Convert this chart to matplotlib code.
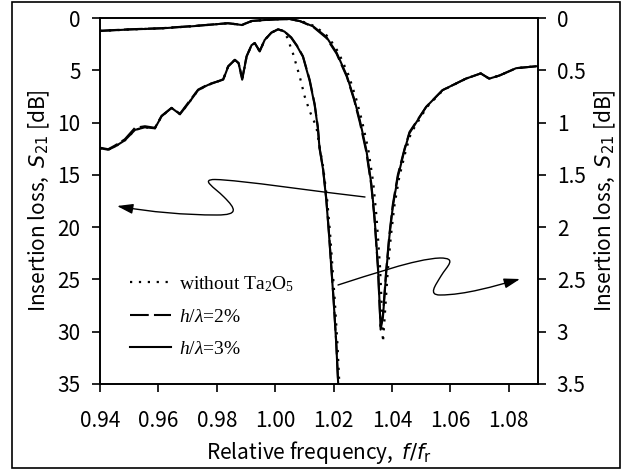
import matplotlib
matplotlib.use("Agg")
import matplotlib.pyplot as plt
from matplotlib.path import Path
from matplotlib.patches import FancyArrowPatch, Rectangle

plt.rcParams["mathtext.fontset"] = "custom"
plt.rcParams["mathtext.rm"] = "Liberation Serif"
plt.rcParams["mathtext.it"] = "Liberation Serif:italic"

# --- wide-scale curve (left axis, 0-35 dB) ---
wide_f = [0.940, 0.9428, 0.9451, 0.9485, 0.952, 0.9554, 0.9588, 0.9611, 0.9645,
          0.9674, 0.9702, 0.9736, 0.977, 0.981, 0.9822, 0.9839, 0.9862, 0.9875,
          0.9887, 0.9902, 0.9919, 0.993, 0.9947, 0.9964, 0.9987, 1.001, 1.0032,
          1.0055, 1.0075, 1.0095, 1.0118, 1.0135, 1.0146, 1.0152, 1.0164, 1.0175,
          1.0184, 1.0192, 1.0200, 1.0209, 1.0215, 1.0218]
wide_3 = [12.45, 12.6, 12.3, 11.7, 10.7, 10.45, 10.55, 9.4, 8.6,
          9.2, 8.2, 6.9, 6.4, 6.0, 5.9, 4.65, 4.0, 4.35,
          5.9, 3.7, 2.6, 2.4, 3.2, 2.1, 1.4, 1.08, 1.3,
          1.9, 2.7, 3.7, 6.0, 8.3, 10.5, 12.5, 14.5, 17.4,
          20.6, 23.8, 27.0, 31.1, 34.6, 36.0]
wide_2 = [12.4, 12.55, 12.2, 11.6, 10.5, 10.35, 10.5, 9.35, 8.6,
          9.15, 8.1, 6.85, 6.35, 6.0, 5.85, 4.6, 4.0, 4.3,
          5.8, 3.65, 2.6, 2.4, 3.15, 2.1, 1.4, 1.08, 1.3,
          1.85, 2.65, 3.65, 5.9, 8.2, 10.4, 12.4, 14.4, 17.3,
          20.5, 23.7, 26.9, 31.0, 34.5, 36.0]
wide_f_0 = [0.940, 0.9428, 0.9451, 0.9485, 0.952, 0.9554, 0.9588, 0.9611, 0.9645,
            0.9674, 0.9702, 0.9736, 0.977, 0.981, 0.9822, 0.9839, 0.9862, 0.9875,
            0.9887, 0.9902, 0.9919, 0.993, 0.9947, 0.9964, 0.9987, 1.001, 1.0025,
            1.0041, 1.0061, 1.0084, 1.0101, 1.0118, 1.0141, 1.0152, 1.0164, 1.0178,
            1.0188, 1.0196, 1.0204, 1.0213, 1.0219, 1.0222]
wide_0 = [12.45, 12.6, 12.3, 11.7, 10.7, 10.45, 10.55, 9.4, 8.6,
          9.2, 8.2, 6.9, 6.4, 6.0, 5.9, 4.65, 4.0, 4.35,
          5.9, 3.7, 2.6, 2.4, 3.2, 2.1, 1.4, 1.08, 1.2,
          1.85, 3.4, 5.6, 7.5, 8.9, 10.4, 12.3, 14.2, 17.4,
          20.6, 23.8, 27.0, 31.1, 34.6, 36.0]

# --- fine-scale curve (right axis, 0-3.5 dB) ---
narrow_f = [0.940, 0.950, 0.9612, 0.9725, 0.9838, 0.9886, 0.992, 0.996, 1.001,
            1.005, 1.0085, 1.013, 1.0175, 1.021, 1.0245, 1.027, 1.029, 1.0312,
            1.0329, 1.034, 1.0352, 1.0357, 1.0361, 1.0369, 1.038, 1.0391, 1.0403,
            1.042, 1.0443, 1.046, 1.0517, 1.0573, 1.0653, 1.0704, 1.0733, 1.0768,
            1.0825, 1.090]
narrow_3 = [0.124, 0.11, 0.099, 0.077, 0.05, 0.067, 0.029, 0.02, 0.012,
            0.01, 0.03, 0.08, 0.18, 0.33, 0.55, 0.77, 0.98, 1.26,
            1.58, 1.9, 2.38, 2.7, 2.98, 2.86, 2.44, 2.09, 1.8,
            1.52, 1.26, 1.1, 0.85, 0.69, 0.58, 0.53, 0.58, 0.55,
            0.48, 0.46]
narrow_2 = [0.122, 0.108, 0.097, 0.075, 0.05, 0.065, 0.028, 0.02, 0.012,
            0.01, 0.03, 0.085, 0.19, 0.34, 0.56, 0.78, 1.0, 1.28,
            1.6, 1.92, 2.4, 2.72, 2.95, 2.84, 2.42, 2.07, 1.78,
            1.5, 1.25, 1.09, 0.85, 0.69, 0.58, 0.53, 0.58, 0.55,
            0.48, 0.46]
narrow_f_0 = [0.940, 0.950, 0.9612, 0.9725, 0.9838, 0.9886, 0.992, 0.996, 1.001,
              1.005, 1.009, 1.0137, 1.0182, 1.0217, 1.0252, 1.0277, 1.0297, 1.0319,
              1.0336, 1.0347, 1.0359, 1.0364, 1.0369, 1.0374, 1.0385, 1.0396, 1.0408,
              1.0425, 1.0448, 1.0465, 1.052, 1.0575, 1.0653, 1.0704, 1.0733, 1.0768,
              1.0825, 1.090]
narrow_0 = [0.124, 0.11, 0.099, 0.077, 0.05, 0.067, 0.029, 0.02, 0.012,
            0.01, 0.03, 0.08, 0.18, 0.33, 0.55, 0.77, 0.98, 1.26,
            1.58, 1.9, 2.38, 2.7, 3.1, 2.9, 2.44, 2.09, 1.8,
            1.52, 1.26, 1.1, 0.85, 0.69, 0.58, 0.53, 0.58, 0.55,
            0.48, 0.46]

labels = [r"without Ta$_2$O$_5$", r"$h/\lambda$=2%", r"$h/\lambda$=3%"]
x_ticks = [0.94, 0.96, 0.98, 1.00, 1.02, 1.04, 1.06, 1.08]
left_ticks = [0, 5, 10, 15, 20, 25, 30, 35]
right_ticks = [0, 0.5, 1, 1.5, 2, 2.5, 3, 3.5]

tick_font = "Noto Sans CJK JP"
fs = 15
lw = 1.5
dot = (0, (1, 3))
dash = (0, (9, 2.5))

fig = plt.figure(figsize=(6.28, 4.70), dpi=100)
ax = fig.add_axes([0.1592, 0.183, 0.6975, 0.7787])
ax2 = ax.twinx()

h3, = ax.plot(wide_f, wide_3, color="black", lw=lw, ls="-", label=labels[2])
h2, = ax.plot(wide_f, wide_2, color="black", lw=lw, ls=dash, label=labels[1])
h0, = ax.plot(wide_f_0, wide_0, color="black", lw=1.6, ls=dot, label=labels[0])

ax2.plot(narrow_f, narrow_3, color="black", lw=lw, ls="-")
ax2.plot(narrow_f, narrow_2, color="black", lw=lw, ls=dash)
ax2.plot(narrow_f_0, narrow_0, color="black", lw=1.6, ls=dot)

ax.set_xlim(0.94, 1.09)
ax.set_ylim(35, 0)
ax2.set_ylim(3.5, 0)
ax.set_xticks(x_ticks)
ax.set_xticklabels([f"{v:.2f}" for v in x_ticks])
ax.set_yticks(left_ticks)
ax.set_yticklabels([str(v) for v in left_ticks])
ax2.set_yticks(right_ticks)
ax2.set_yticklabels([f"{v:g}" for v in right_ticks])

for a in (ax, ax2):
    a.tick_params(direction="out", length=6, width=1.2, labelsize=fs)
    for lab in a.get_xticklabels() + a.get_yticklabels():
        lab.set_fontfamily(tick_font)
    for s in a.spines.values():
        s.set_linewidth(1.2)
ax.tick_params(axis="x", pad=13)
ax.tick_params(axis="y", pad=8)
ax2.tick_params(axis="y", pad=7.5)

ylab = r"Insertion loss,  $S_{21}$ [dB]"
ax.set_ylabel(ylab, fontsize=fs, family=tick_font, labelpad=4,
              math_fontfamily="dejavusans")
ax2.set_ylabel(ylab, fontsize=fs, family=tick_font, labelpad=5, rotation=90,
               math_fontfamily="dejavusans")
ax.set_xlabel(r"Relative frequency,  $f/f_\mathrm{r}$", fontsize=fs,
              family=tick_font, labelpad=5, math_fontfamily="dejavusans")

leg = ax.legend(handles=[h0, h2, h3], loc="upper left",
                bbox_to_anchor=(0.0685, 0.30), frameon=False,
                borderpad=0, borderaxespad=0,
                prop={"family": "Liberation Serif", "size": 14},
                handlelength=2.1, handletextpad=0.4, labelspacing=0.75)

# curved arrows pointing at the axes (figure pixel positions, y down)
W, H = 628, 470
arrow1 = [(365, 197), (320, 192), (240, 180), (215, 179.5),
          (200, 179.5), (214, 187), (224, 197),
          (236, 209), (239, 215), (217, 215),
          (185, 215), (150, 212), (117, 206)]
arrow2 = [(338, 285), (370, 275), (415, 259), (440, 258),
          (458, 258), (447, 266), (441, 276),
          (435, 286), (428, 295), (440, 295),
          (465, 295), (495, 286), (520, 279)]
codes = [Path.MOVETO] + [Path.CURVE4] * 12
for pts in (arrow1, arrow2):
    verts = [(x / W, 1 - y / H) for x, y in pts]
    arr = FancyArrowPatch(path=Path(verts, codes),
                          arrowstyle="-|>,head_length=0.8,head_width=0.25",
                          mutation_scale=12, lw=1.0, color="black",
                          transform=fig.transFigure)
    fig.patches.append(arr)

fig.patches.append(Rectangle((0.019, 0.004), 0.968, 0.992,
                             transform=fig.transFigure, fill=False,
                             lw=1.2, ec="black"))

fig.savefig("out.png", dpi=100)
